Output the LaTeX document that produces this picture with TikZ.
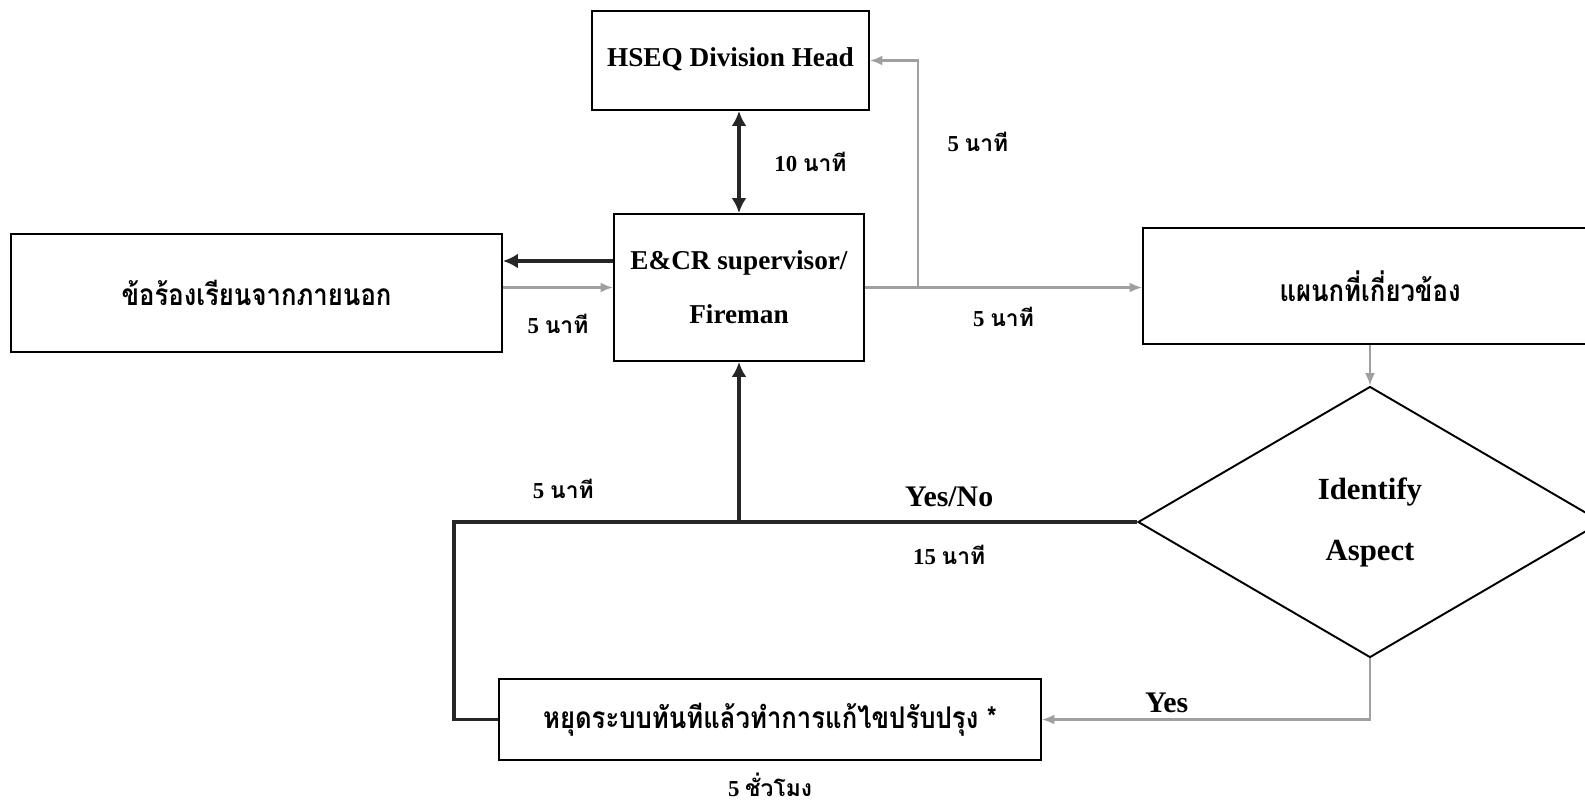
\documentclass[tikz,border=0pt]{standalone}
\usepackage{fontspec}
\setmainfont{Liberation Serif}
\newfontfamily\thaifont[Script=Thai]{Loma}
\newfontfamily\thainarrow[Script=Thai,FakeStretch=0.86]{Loma}
\usetikzlibrary{shapes.geometric,arrows.meta,positioning}

\begin{document}
\begin{tikzpicture}
    \tikzstyle{box} = [rectangle, draw, line width=1.1pt, align=center, inner sep=0pt,
                       font=\bfseries\fontsize{15.5}{30.7}\selectfont]
    \tikzstyle{thaibox} = [box, font=\thainarrow\bfseries\fontsize{17}{20}\selectfont]
    \tikzstyle{decide} = [diamond, draw, line width=1.1pt, inner sep=0pt, align=center,
                          font=\bfseries\fontsize{17.5}{34.7}\selectfont]
    \tikzstyle{tlabel} = [text=black, font=\bfseries\fontsize{13}{15}\selectfont, inner sep=2pt]
    \tikzstyle{flow} = [-{Latex[length=0.25cm,width=0.2cm]}, gray!75, line width=1.2pt]
    \tikzstyle{heavy} = [black!85, line width=2.2pt]
  \useasboundingbox (-14.61,1.21) rectangle (17.09,-14.89);
  \clip (-14.61,1.21) rectangle (17.09,-14.89);
  \node[box, minimum width=5.54cm, minimum height=1.98cm] (HSEQ) {\raisebox{0.13cm}{HSEQ Division Head}};
  \node[box, below of=HSEQ, xshift=0.17cm, yshift=-3.54cm, minimum width=5cm, minimum height=2.94cm] (ECR) {E\&CR supervisor/\\Fireman};
  \node[thaibox, left of=ECR, xshift=-8.65cm, yshift=-0.11cm, minimum width=9.82cm, minimum height=2.36cm] (ext) {ข้อร้องเรียนจากภายนอก};
  \node[thaibox, right of=ECR, xshift=11.62cm, yshift=0.03cm, minimum width=9.08cm, minimum height=2.32cm] (dept) {แผนกที่เกี่ยวข้อง};
  \node[decide, below of=dept, yshift=-3.72cm, minimum width=9.28cm, minimum height=5.42cm] (idasp) {Identify\\Aspect};
  \node[thaibox, below of=ECR, xshift=0.62cm, yshift=-7.64cm, minimum width=10.84cm, minimum height=1.62cm] (fix) {หยุดระบบทันทีแล้วทำการแก้ไขปรับปรุง *};
  \node[tlabel, below of=fix, yshift=-0.3cm] (fixtime) {5 {\thaifont ชั่วโมง}};
  \coordinate (bendup) at ([xshift=1.06cm]ECR.east);
  \coordinate (loopc) at ([xshift=-0.88cm]fix.west |- idasp.west);
  \draw[heavy, {Latex[length=0.3cm,width=0.3cm]}-{Latex[length=0.3cm,width=0.3cm]}] (ECR.north) -- (ECR.north |- HSEQ.south) node[tlabel, midway, right=0.6cm] {10 {\thaifont นาที}};
  \draw[flow] (ECR.east) -- (bendup) |- (HSEQ.east) node[tlabel, pos=0.32, right=0.5cm] {5 {\thaifont นาที}};
  \draw[flow] (ECR.east) -- (ECR.east -| dept.west) node[tlabel, midway, below=0.3cm] {5 {\thaifont นาที}};
  \draw[heavy, -{Latex[length=0.3cm,width=0.3cm]}] ([yshift=0.53cm]ECR.west) -- ([yshift=0.53cm]ECR.west -| ext.east);
  \draw[flow] (ECR.west -| ext.east) -- (ECR.west) node[tlabel, midway, below=0.45cm] {5 {\thaifont นาที}};
  \draw[flow] (dept.south) -- (idasp.north);
  \draw[heavy] (idasp.west) -- (loopc) node[tlabel, pos=0.275, above=0.2cm, font=\bfseries\fontsize{17}{20}\selectfont] {Yes/No}
      node[tlabel, pos=0.275, below=0.35cm] {15 {\thaifont นาที}} node[tlabel, pos=0.84, above=0.35cm] {5 {\thaifont นาที}} |- (fix.west);
  \draw[heavy, -{Latex[length=0.3cm,width=0.3cm]}] (ECR.south |- idasp.west) -- (ECR.south);
  \draw[flow] (idasp.south) |- (fix.east) node[tlabel, pos=0.81, above=0.05cm, font=\bfseries\fontsize{17}{20}\selectfont] {Yes};
\end{tikzpicture}
\end{document}
